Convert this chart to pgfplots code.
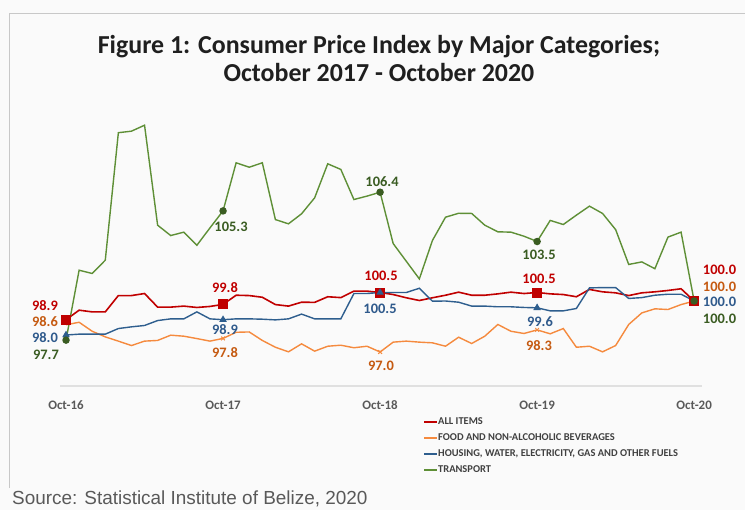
\documentclass[border=0pt]{standalone}
\usepackage{pgfplots}
\pgfplotsset{compat=1.18}
\usepackage{pgfplotstable}
\usepackage{fontspec}
\setmainfont{Carlito}
\newfontfamily\arialfont{Liberation Sans}
\definecolor{bgc}{RGB}{250,250,250}
\definecolor{frame}{RGB}{200,200,200}
\definecolor{redL}{HTML}{C00000}
\definecolor{orgL}{HTML}{F58A3E}
\definecolor{orgT}{HTML}{C55A11}
\definecolor{bluL}{HTML}{2E5E8E}
\definecolor{bluT}{HTML}{2F5A8C}
\definecolor{grnL}{HTML}{5E8F36}
\definecolor{grnT}{HTML}{3A5C22}
\definecolor{tickc}{HTML}{595959}

\pgfplotstableread{
i all food housing transport
0 98.90 98.60 98.00 97.70
1 99.46 98.75 98.05 101.81
2 99.36 98.22 98.05 101.62
3 99.36 97.89 98.05 102.40
4 100.32 97.64 98.38 109.90
5 100.32 97.38 98.48 109.99
6 100.44 97.64 98.56 110.34
7 99.64 97.68 98.85 104.46
8 99.64 97.99 98.95 103.85
9 99.70 97.93 98.95 104.05
10 99.62 97.79 99.36 103.28
11 99.68 97.64 98.95 104.30
12 99.80 97.80 98.90 105.30
13 100.34 98.16 98.95 108.13
14 100.32 98.18 98.95 107.87
15 100.22 97.68 98.93 108.13
16 99.79 97.28 98.89 104.79
17 99.70 97.01 98.95 104.54
18 99.93 97.48 99.23 105.13
19 99.92 97.05 98.95 106.07
20 100.25 97.34 98.95 108.07
21 100.20 97.40 98.95 107.74
22 100.58 97.25 100.44 105.97
23 100.58 97.34 100.44 106.17
24 100.50 97.00 100.50 106.40
25 100.38 97.58 100.50 103.38
26 100.19 97.64 100.50 102.34
27 100.03 97.58 100.75 101.30
28 100.19 97.54 99.99 103.56
29 100.34 97.34 100.00 104.93
30 100.52 97.87 99.93 105.16
31 100.34 97.50 99.70 105.15
32 100.34 97.93 99.70 104.46
33 100.42 98.62 99.66 104.07
34 100.52 98.22 99.66 104.05
35 100.44 98.09 99.62 103.81
36 100.50 98.30 99.60 103.50
37 100.42 98.07 99.42 104.74
38 100.38 98.38 99.42 104.50
39 100.25 97.28 99.56 105.05
40 100.68 97.34 100.77 105.58
41 100.54 97.01 100.79 105.15
42 100.48 97.38 100.79 104.20
43 100.32 98.62 100.15 102.15
44 100.48 99.30 100.20 102.30
45 100.54 99.54 100.34 101.90
46 100.62 99.50 100.40 103.76
47 100.72 99.79 100.40 104.05
48 100.00 100.00 100.00 100.00
}\cpi

\begin{document}
\begin{tikzpicture}
\fill[bgc] (0,0) rectangle (745bp,-510bp);
\path[use as bounding box] (0,0) rectangle (745bp,-510bp);
\draw[frame, line width=1bp] (9.5bp,-488bp) -- (9.5bp,-13.5bp) -- (746bp,-13.5bp);

\node[font=\bfseries\fontsize{26}{28}\selectfont, align=center, text=black!88] at (379bp,-58.5bp)
  {Figure 1: Consumer Price Index by Major Categories;\\October 2017 - October 2020};

\begin{axis}[
  at={(60bp,-386bp)}, anchor=south west,
  scale only axis, width=642bp, height=289bp,
  xmin=-0.46, xmax=48.6, ymin=95, ymax=112,
  axis y line=none, axis x line=bottom,
  x axis line style={draw=black!12, line width=1.2bp, -},
  xtick={0,12,24,36,48},
  xticklabels={Oct-16,Oct-17,Oct-18,Oct-19,Oct-20},
  xtick style={draw=none},
  xticklabel style={font=\bfseries\fontsize{13}{13}\selectfont, text=tickc, yshift=-9bp},
  clip=false,
  legend style={at={(0.5654,-0.1055)}, anchor=north west, draw=none, fill=none,
    font=\bfseries\fontsize{10.5}{11}\selectfont, text=black!75,
    inner sep=0pt, row sep=5.6bp,
    nodes={inner sep=0pt, text height=8bp, text depth=2.5bp}},
  legend cell align=left,
  legend image code/.code={\draw[#1, line width=2bp] (0bp,0bp) -- (13bp,0bp);},
]
\addplot[redL, line width=1.6bp, mark=square*, mark indices={1,13,25,37,49},
  mark options={fill=redL, draw=redL, solid}, mark size=4.2bp] table[x=i, y=all] {\cpi};
\addlegendentry{ALL ITEMS}
\addplot[orgL, line width=1.4bp, mark=x, mark indices={13,25,37},
  mark options={draw=orgL, solid, line width=1bp}, mark size=2.6bp] table[x=i, y=food] {\cpi};
\addlegendentry{FOOD AND NON-ALCOHOLIC BEVERAGES}
\addplot[bluL, line width=1.4bp, mark=triangle*, mark indices={1,13,25,37},
  mark options={fill=bluL, draw=bluL, solid}, mark size=3bp] table[x=i, y=housing] {\cpi};
\addlegendentry{HOUSING, WATER, ELECTRICITY, GAS AND OTHER FUELS}
\addplot[grnL, line width=1.4bp, mark=*, mark indices={1,13,25,37,49},
  mark options={fill=grnT, draw=grnT, solid}, mark size=3bp] table[x=i, y=transport] {\cpi};
\addlegendentry{TRANSPORT}
\end{axis}

\begin{scope}[every node/.style={font=\bfseries\fontsize{14.5}{15}\selectfont, inner sep=0pt}]
\node[text=redL] at (45bp,-306bp) {98.9};
\node[text=redL] at (225bp,-287.3bp) {99.8};
\node[text=redL] at (381bp,-275.7bp) {100.5};
\node[text=redL] at (539bp,-279bp) {100.5};
\node[text=redL] at (719.5bp,-270bp) {100.0};
\node[text=orgT] at (45bp,-321.7bp) {98.6};
\node[text=orgT] at (225bp,-352.3bp) {97.8};
\node[text=orgT] at (381bp,-366bp) {97.0};
\node[text=orgT] at (539bp,-346bp) {98.3};
\node[text=orgT] at (719.5bp,-287.3bp) {100.0};
\node[text=bluT] at (45bp,-338bp) {98.0};
\node[text=bluT] at (225bp,-329.3bp) {98.9};
\node[text=bluT] at (380bp,-309.3bp) {100.5};
\node[text=bluT] at (540bp,-321.7bp) {99.6};
\node[text=bluT] at (719.5bp,-301.7bp) {100.0};
\node[text=grnT] at (46bp,-355bp) {97.7};
\node[text=grnT] at (231bp,-226.7bp) {105.3};
\node[text=grnT] at (382bp,-181.7bp) {106.4};
\node[text=grnT] at (539bp,-255bp) {103.5};
\node[text=grnT] at (719.5bp,-319.3bp) {100.0};
\end{scope}

\node[anchor=base west, inner sep=0pt, font=\arialfont\fontsize{19}{20}\selectfont, text=black!65]
  at (12bp,-504bp) {Source: Statistical Institute of Belize, 2020};
\end{tikzpicture}
\end{document}
